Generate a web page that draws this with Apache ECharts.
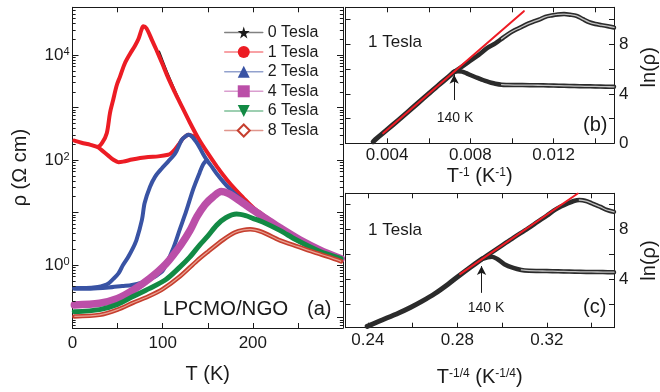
<!DOCTYPE html>
<html><head><meta charset="utf-8">
<script src="https://cdn.jsdelivr.net/npm/echarts@6/dist/echarts.min.js"></script>
<style>html,body{margin:0;padding:0;background:#fff}#c{width:660px;height:392px}</style>
</head><body><div id="c"></div>
<script>
// ---------- Panel (a): [T (K), log10(rho / Ohm cm)] ----------
const tesla0 = [[96,4.06],[100,3.88],[106,3.62],[113,3.34],[119,3.11],[130,2.72],[140,2.40],[150,2.13],[160,1.88],[171,1.63],[180,1.45],[189,1.29],[200,1.10],[215,0.91],[230,0.73],[252,0.50],[274,0.30],[298,0.13]];
const tesla1Up = [[2,2.37],[10,2.33],[20,2.29],[28,2.25],[33,2.33],[38,2.51],[41.6,2.90],[45,3.14],[49,3.42],[52.7,3.59],[58,3.84],[64,4.03],[69,4.17],[73,4.30],[76.5,4.48],[78.5,4.55],[82,4.51],[88,4.29],[93,4.10],[100,3.82],[106,3.57],[113,3.31],[119,3.10],[130,2.72],[140,2.40],[150,2.13],[160,1.88],[171,1.63],[180,1.45],[189,1.29],[200,1.10],[215,0.91],[230,0.73],[252,0.50],[274,0.30],[298,0.13]];
const tesla1Low = [[28,2.25],[33,2.18],[40,2.08],[45,2.01],[51,1.96],[56,1.97],[66,2.01],[75,2.04],[84,2.06],[95,2.07],[106,2.10],[110,2.14],[114,2.21],[118,2.30],[122,2.40],[126,2.46],[129,2.48],[133,2.46],[137,2.45]];
const tesla2A = [[2,-0.44],[15,-0.44],[28,-0.42],[35,-0.39],[40,-0.35],[45,-0.27],[51,-0.16],[56,0.0],[62,0.16],[67,0.32],[71,0.48],[77,0.86],[80,1.18],[86,1.49],[91.5,1.68],[99,1.84],[106,1.97],[114,2.13],[121,2.38],[126,2.46],[129,2.48],[133,2.44],[137,2.35],[141,2.24],[145,2.11],[149,2.00],[155,1.86],[160,1.74],[168,1.57],[175,1.44],[185,1.28],[193,1.17],[200,1.07],[215,0.89],[230,0.72],[252,0.49],[274,0.30],[298,0.13]];
const tesla2B = [[2,-0.45],[20,-0.45],[40,-0.43],[55,-0.40],[66,-0.38],[84,-0.29],[99,-0.13],[104,0.02],[112,0.33],[119,0.68],[126,1.02],[134,1.45],[141,1.76],[145,1.92],[149,2.00]];
const tesla4 = [[2,-0.76],[30,-0.73],[50,-0.64],[67,-0.48],[86,-0.25],[104,0.03],[120,0.38],[130,0.65],[138,0.92],[147,1.15],[156,1.30],[165,1.40],[172,1.37],[180,1.29],[190,1.17],[200,1.05],[215,0.88],[230,0.71],[252,0.48],[274,0.29],[298,0.12]];
const tesla6 = [[2,-0.89],[30,-0.85],[50,-0.75],[67,-0.60],[85,-0.45],[104,-0.27],[119,-0.04],[130,0.15],[141,0.38],[150,0.55],[160,0.76],[170,0.90],[182,0.97],[192,0.94],[200,0.89],[211,0.82],[230,0.66],[248,0.48],[274,0.26],[298,0.12]];
const tesla8 = [[2,-0.98],[30,-0.95],[50,-0.85],[67,-0.72],[84,-0.60],[100,-0.46],[119,-0.22],[138,0.08],[150,0.25],[167,0.48],[180,0.62],[190,0.67],[197,0.68],[210,0.63],[230,0.47],[250,0.35],[270,0.23],[285,0.15],[298,0.07]];
const fieldNames = ['0 Tesla','1 Tesla','2 Tesla','4 Tesla','6 Tesla','8 Tesla'];
const minorFactors = [2,3,4,5,6,7,8,9];
const decades = [-2,-1,0,1,2,3,4];

// ---------- Panel (b): [1/T (1/K), ln(rho)] at 1 Tesla ----------
const bShared = [[0.00333,0.13],[0.0035,0.40],[0.0040,1.10],[0.0045,1.82],[0.0050,2.55],[0.0055,3.28],[0.0060,4.02],[0.0065,4.75],[0.0070,5.45],[0.0072,5.75]];
const bUpper = [[0.0072,5.75],[0.0076,6.20],[0.0080,6.68],[0.0084,7.15],[0.0088,7.70],[0.0092,8.08],[0.0095,8.45],[0.0098,8.82],[0.0101,9.12],[0.0104,9.36],[0.0107,9.62],[0.0110,9.82],[0.0113,10.0],[0.0116,10.23],[0.0119,10.34],[0.0122,10.42],[0.0125,10.45],[0.0128,10.40],[0.0131,10.31],[0.0134,10.05],[0.0137,9.80],[0.0140,9.65],[0.0143,9.56],[0.0146,9.47],[0.0149,9.37]];
const bLower = [[0.0072,5.75],[0.0074,5.82],[0.0076,5.80],[0.0078,5.68],[0.0080,5.52],[0.0082,5.38],[0.0084,5.25],[0.0086,5.12],[0.0088,5.00],[0.0090,4.90],[0.0092,4.82],[0.0095,4.74],[0.0098,4.72],[0.0101,4.71],[0.0105,4.71],[0.0110,4.70],[0.0115,4.69],[0.0120,4.67],[0.0125,4.65],[0.0130,4.63],[0.0135,4.61],[0.0140,4.60],[0.0145,4.58],[0.0149,4.57]];
const bFit = [[0.00381,0.81],[0.01057,10.69]];
const bArrow = [[0.00722,3.5],[0.00722,5.55]];

// ---------- Panel (c): [T^-1/4, ln(rho)] at 1 Tesla ----------
const cShared = [[0.2397,0.21],[0.2450,0.62],[0.2538,1.28],[0.2590,1.72],[0.2641,2.21],[0.2700,2.85],[0.2760,3.62],[0.2812,4.34],[0.2860,4.98],[0.2908,5.60]];
const cUpper = [[0.2908,5.60],[0.2950,6.12],[0.3000,6.72],[0.3050,7.32],[0.3116,8.08],[0.3160,8.62],[0.3200,9.10],[0.3234,9.54],[0.3265,9.85],[0.3293,10.08],[0.3320,10.28],[0.3345,10.36],[0.3360,10.34],[0.3380,10.25],[0.3400,10.10],[0.3420,9.95],[0.3440,9.81],[0.3460,9.62],[0.3480,9.50],[0.3500,9.41]];
const cLower = [[0.2908,5.60],[0.2935,5.76],[0.2955,5.80],[0.2980,5.60],[0.3010,5.20],[0.3050,4.90],[0.3086,4.74],[0.3120,4.68],[0.3160,4.66],[0.3200,4.65],[0.3250,4.63],[0.3300,4.61],[0.3350,4.59],[0.3400,4.58],[0.3450,4.57],[0.3500,4.56]];
const cFit = [[0.2812,4.40],[0.3338,10.88]];
const cArrow = [[0.2908,2.9],[0.2908,5.05]];

const FONT = "'Liberation Sans', Arial, Helvetica, sans-serif";
const INK = '#1a1a1a';
const toRho = arr => arr.map(p => [p[0], Math.pow(10, p[1])]);
const STAR = 'path://M50,0 L61,35 L98,35 L68,57 L79,91 L50,70 L21,91 L32,57 L2,35 L39,35 Z';
const RHO_MIN = 0.0631, RHO_MAX = 81283, T_MIN = 0, T_MAX = 300;

const line = {show: true, onZero: false, lineStyle: {color: INK, width: 1}};
const tick = {show: true, inside: true, length: 5, lineStyle: {color: INK, width: 1}};
const supRich = {s: {fontSize: 11, verticalAlign: 'top', fontFamily: FONT, color: INK}};
const lab = (extra) => Object.assign({fontSize: 17, color: INK, fontFamily: FONT}, extra);
const nameStyle = {fontSize: 20, color: INK, fontFamily: FONT, rich: {s: {fontSize: 12, verticalAlign: 'top', fontFamily: FONT, color: INK}}};

const chart = echarts.init(document.getElementById('c'), null, {renderer: 'canvas'});

const grids = [
  {left: 72.5, top: 7.3, width: 270.5, height: 320.7},
  {left: 345.5, top: 7.3, width: 271.5, height: 136},
  {left: 345.5, top: 193.3, width: 271.5, height: 134.4}
];

function mirrorX(gi, base) {
  return Object.assign({}, base, {position: 'top', name: '', axisLabel: {show: false}, gridIndex: gi});
}
function mirrorY(gi, base, pos) {
  return Object.assign({}, base, {position: pos, name: '', axisLabel: {show: false}, gridIndex: gi});
}

const xa = {type: 'value', gridIndex: 0, min: T_MIN, max: T_MAX, interval: 50, position: 'bottom', axisLine: line, axisTick: tick, splitLine: {show: false},
  axisLabel: lab({margin: 7, formatter: v => (v % 100 === 0 && v < 300) ? String(v) : ''}),
  name: 'T (K)', nameLocation: 'middle', nameGap: 36, nameTextStyle: nameStyle};
const xb = {type: 'value', gridIndex: 1, min: 0.002, max: 0.0149, interval: 0.002, position: 'bottom', axisLine: line, axisTick: tick, splitLine: {show: false},
  axisLabel: lab({margin: 4, formatter: v => { const k = v / 0.004; return (Math.abs(k - Math.round(k)) < 1e-6 && v > 0.003) ? v.toFixed(3) : ''; }}),
  name: 'T{s|-1} (K{s|-1})', nameLocation: 'middle', nameGap: 23, nameTextStyle: nameStyle};
const xc = {type: 'value', gridIndex: 2, min: 0.23, max: 0.35, splitNumber: 6, position: 'bottom', axisLine: line, axisTick: tick, splitLine: {show: false},
  axisLabel: lab({margin: 4, formatter: v => { const k = Math.round(v * 100); return (k % 4 === 0 && Math.abs(v * 100 - k) < 1e-6) ? v.toFixed(2) : ''; }}),
  name: 'T{s|-1/4} (K{s|-1/4})', nameLocation: 'middle', nameGap: 40, nameTextStyle: nameStyle};

const ya = {type: 'log', logBase: 10, gridIndex: 0, min: RHO_MIN, max: RHO_MAX, position: 'left', axisLine: line, axisTick: Object.assign({}, tick, {length: 6}),
  splitLine: {show: false},
  axisLabel: lab({margin: 3, rich: supRich, formatter: v => { const e = Math.log10(v); const r = Math.round(e); if (Math.abs(e - r) > 1e-6 || r % 2 !== 0) return ''; return '10{s|' + r + '}'; }}),
  name: 'ρ (Ω cm)', nameLocation: 'middle', nameGap: 42, nameRotate: 90, nameTextStyle: nameStyle};
const yb = {type: 'value', gridIndex: 1, min: 0, max: 11, interval: 2, position: 'right', axisLine: line, axisTick: tick, splitLine: {show: false},
  axisLabel: lab({margin: 5, formatter: v => (v % 4 === 0) ? String(v) : ''}),
  name: 'ln(ρ)', nameLocation: 'middle', nameGap: 25, nameRotate: 90, nameTextStyle: Object.assign({}, nameStyle, {padding: [0, 0, 0, 16]})};
const yc = {type: 'value', gridIndex: 2, min: 0.1, max: 10.9, splitNumber: 5, position: 'right', axisLine: line, axisTick: tick, splitLine: {show: false},
  axisLabel: lab({margin: 5, formatter: v => (Math.abs(v % 4) < 1e-6 && v > 1) ? String(Math.round(v)) : ''}),
  name: 'ln(ρ)', nameLocation: 'middle', nameGap: 25, nameRotate: 90, nameTextStyle: nameStyle};

// minor log ticks (k x 10^n) on both sides of panel (a), as short data-space segments
const minorVals = [];
decades.forEach(n => minorFactors.forEach(k => { const v = k * Math.pow(10, n); if (v > RHO_MIN && v < RHO_MAX) minorVals.push(v); }));
const tickSpanT = 3.5;
const minorTickLines = [];
minorVals.forEach(v => {
  minorTickLines.push([{coord: [T_MIN, v]}, {coord: [T_MIN + tickSpanT, v]}]);
  minorTickLines.push([{coord: [T_MAX - tickSpanT, v]}, {coord: [T_MAX, v]}]);
});

function aSeries(name, data, color, width, symbol, extra) {
  return Object.assign({
    name, type: 'line', xAxisIndex: 0, yAxisIndex: 0, data: toRho(data), smooth: 0.3,
    symbol, symbolSize: 8, showSymbol: false, silent: true, animation: false,
    itemStyle: {color}, lineStyle: {color, width, cap: 'round', join: 'round'}
  }, extra || {});
}
const DARK = '#2b2b2b';
function dSeries(xi, yi, data, width, color, extra) {
  return Object.assign({type: 'line', xAxisIndex: xi, yAxisIndex: yi, data, smooth: 0.3, showSymbol: false, symbol: 'none', silent: true, animation: false,
    lineStyle: {color, width, cap: 'round', join: 'round'}}, extra || {});
}
function arrowML(pts) {
  return {silent: true, symbol: ['none', 'arrow'], symbolSize: [7, 9], label: {show: false},
    lineStyle: {color: INK, width: 1, type: 'solid'},
    data: [[{coord: pts[0]}, {coord: pts[1]}]]};
}

const series = [
  aSeries('0 Tesla', tesla0, '#1a1a1a', 2.5, STAR),
  aSeries('1 Tesla', tesla1Up, '#ec1c24', 4, 'circle'),
  aSeries('1 Tesla', tesla1Low, '#ec1c24', 4, 'circle'),
  aSeries('2 Tesla', tesla2A, '#3953a4', 4, 'triangle'),
  aSeries('2 Tesla', tesla2B, '#3953a4', 4, 'triangle'),
  aSeries('4 Tesla', tesla4, '#bb4fa8', 7.5, 'rect'),
  aSeries('6 Tesla', tesla6, '#128a44', 5, 'triangle', {symbolRotate: 180}),
  aSeries('8 Tesla', tesla8, '#c63f2f', 4.5, 'emptyDiamond'),
  {type: 'line', xAxisIndex: 0, yAxisIndex: 0, data: toRho(tesla8), smooth: 0.3, showSymbol: false, symbol: 'none', silent: true,
    lineStyle: {color: '#e9a293', width: 1.2}},
  {type: 'line', xAxisIndex: 0, yAxisIndex: 0, data: [], silent: true,
    markLine: {silent: true, symbol: ['none', 'none'], label: {show: false}, animation: false,
      lineStyle: {color: INK, width: 1, type: 'solid', opacity: 1}, data: minorTickLines}},
  // panel b
  dSeries(2, 2, bShared, 5, DARK, {markLine: arrowML(bArrow)}),
  dSeries(2, 2, bUpper, 4.5, DARK),
  dSeries(2, 2, bLower, 4.5, DARK),
  dSeries(2, 2, bUpper.filter(p => p[0] >= 0.0093), 1.3, '#c4c4c4'),
  dSeries(2, 2, bLower.filter(p => p[0] >= 0.0093), 1.3, '#c4c4c4'),
  dSeries(2, 2, bFit, 2, '#ee1c25', {smooth: false}),
  // panel c
  dSeries(4, 4, cShared, 5, DARK, {markLine: arrowML(cArrow)}),
  dSeries(4, 4, cUpper, 4.5, DARK),
  dSeries(4, 4, cLower, 4.5, DARK),
  dSeries(4, 4, cUpper.filter(p => p[0] >= 0.334), 1.3, '#c4c4c4'),
  dSeries(4, 4, cLower.filter(p => p[0] >= 0.307), 1.3, '#c4c4c4'),
  dSeries(4, 4, cFit, 2, '#ee1c25', {smooth: false})
];

const txt = (x, y, text, size, align) => ({type: 'text', x, y, silent: true,
  style: {text, fontSize: size, fontFamily: FONT, fill: INK, align: align || 'left', verticalAlign: 'middle'}});

chart.setOption({
  animation: false,
  backgroundColor: '#fff',
  grid: grids,
  xAxis: [xa, mirrorX(0, xa), xb, mirrorX(1, xb), xc, mirrorX(2, xc)],
  yAxis: [ya, mirrorY(0, ya, 'right'), yb, mirrorY(1, yb, 'left'), yc, mirrorY(2, yc, 'left')],
  legend: {
    data: fieldNames, orient: 'vertical', left: 224, top: 24.5, padding: 0, itemWidth: 38, itemHeight: 15, itemGap: 3.6,
    textStyle: {fontSize: 16, color: INK, fontFamily: FONT},
    lineStyle: {width: 1.5, opacity: 0.55}, selectedMode: false
  },
  series,
  graphic: [
    txt(163, 309, 'LPCMO/NGO', 20.5),
    txt(307, 309, '(a)', 20),
    txt(368, 42, '1 Tesla', 17),
    txt(368, 230, '1 Tesla', 17),
    txt(583, 125, '(b)', 20),
    txt(583, 307, '(c)', 20),
    txt(455, 118.5, '140 K', 14, 'center'),
    txt(486, 308.5, '140 K', 14, 'center')
  ]
});
</script></body></html>
